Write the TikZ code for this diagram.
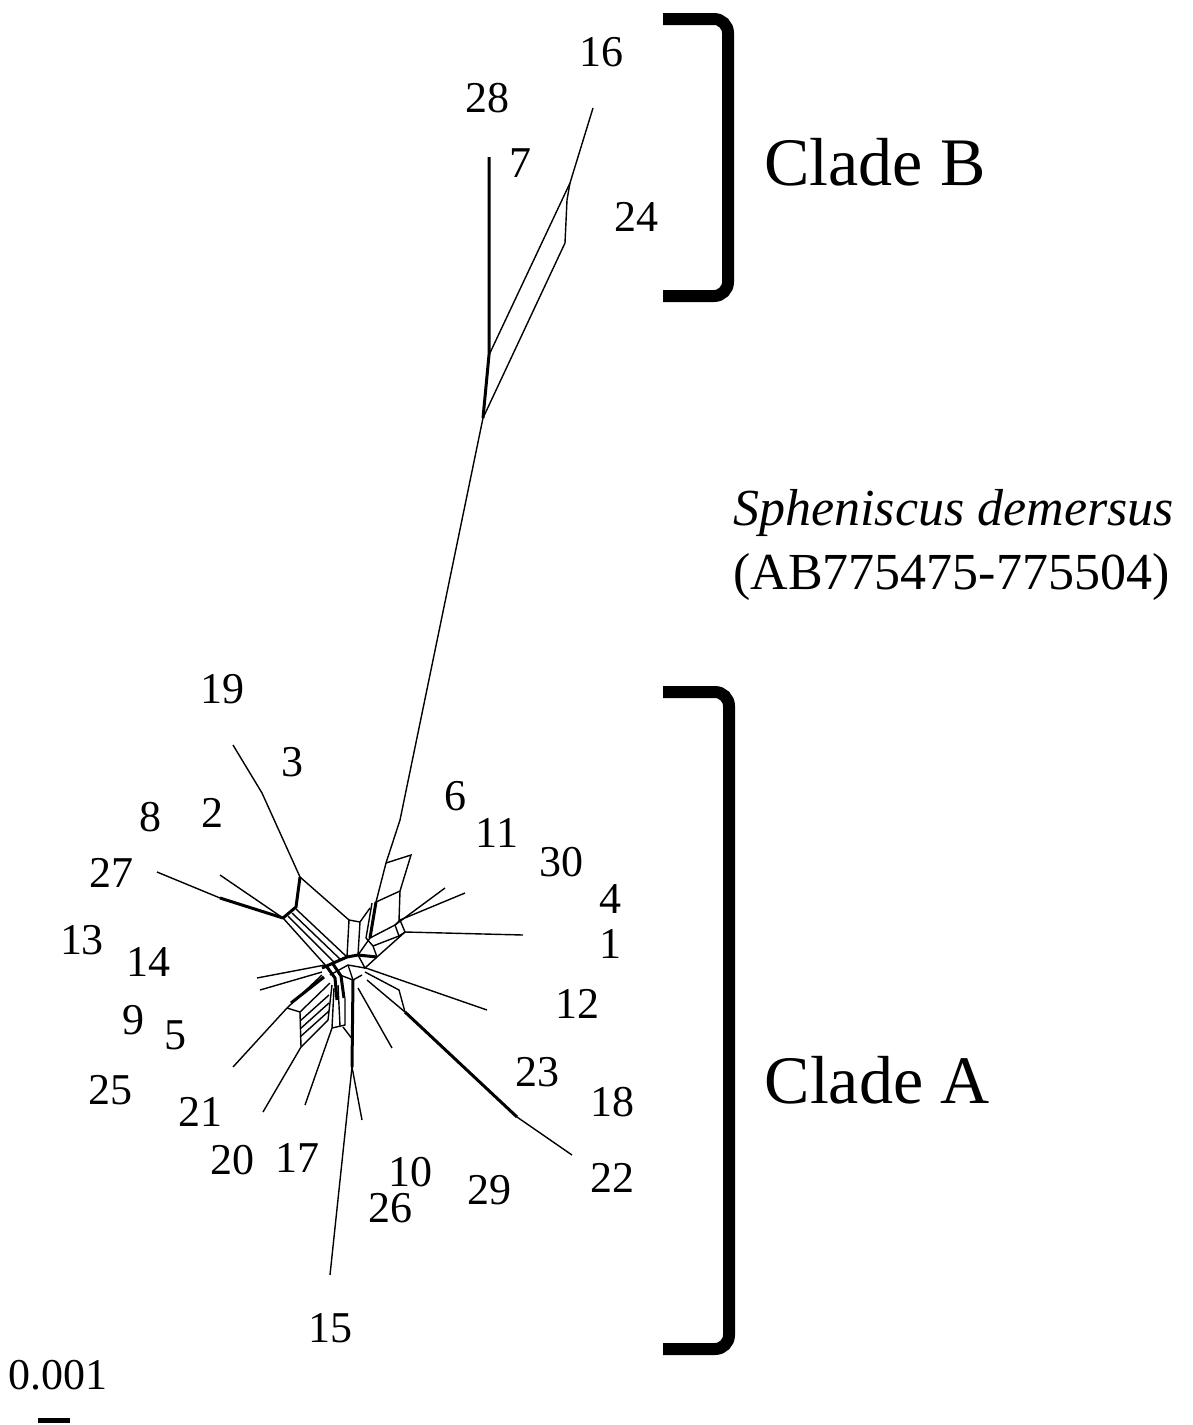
\documentclass[tikz,border=0pt]{standalone}
\usepackage{fontspec}
\setmainfont{Liberation Serif}
\begin{document}
\begin{tikzpicture}[x=0.5pt,y=-0.5pt,
  lbl/.style={font=\fontsize{22}{24}\selectfont,inner sep=0pt},
  clade/.style={font=\fontsize{34}{38}\selectfont,inner sep=0pt},
  edge/.style={line width=0.7pt},
  heavy/.style={line width=1.5pt},
  bracket/.style={line width=6pt,rounded corners=7pt}]
\useasboundingbox (0,0) rectangle (1193,1425);

% tips
\coordinate (t28) at (489,157);
\coordinate (t16) at (593,108);
\coordinate (t19) at (233,745);
\coordinate (t27) at (157,872);
\coordinate (t8) at (220,875);
\coordinate (t13) at (257,978);
\coordinate (t14) at (260,990);
\coordinate (t9) at (233,1067);
\coordinate (t21) at (263,1112);
\coordinate (t17) at (305,1105);
\coordinate (t15) at (330,1275);
\coordinate (t10) at (362,1120);
\coordinate (t29) at (392,1048);
\coordinate (t22) at (572,1155);
\coordinate (t12) at (487,1010);
\coordinate (t1) at (523,935);
\coordinate (t4) at (465,893);
\coordinate (t30) at (445,888);

% clade B part
\coordinate (b1) at (570,183);
\coordinate (b2) at (565,243);
\coordinate (b3) at (489,355);
\coordinate (b4) at (483,418);
\draw[heavy] (t28) -- (b3) -- (b4);
\draw[edge] (t16) -- (b1) -- (b3);
\draw[edge] (b1) -- (567,200) -- (b2) -- (b4);

% long branch
\coordinate (e1) at (386,863);
\coordinate (e2) at (411,855);
\coordinate (e3) at (400,891);
\coordinate (c0) at (376,902);
\draw[edge] (b4) -- (400,820) -- (e1) -- (c0);
\draw[edge] (e1) -- (e2) -- (e3) -- (c0);
\draw[edge] (e3) -- (399,921);
\draw[heavy] (c0) -- (370,938);
\draw[edge] (372,903) -- (366,938);

% east box
\draw[edge] (395,925) -- (400,920) -- (405,932) -- (399,936) -- cycle;
\draw[edge] (395,925) -- (t30);
\draw[edge] (400,920) -- (t4);
\draw[edge] (405,932) -- (t1);
\draw[edge] (370,938) -- (395,925);
\draw[edge] (373,946) -- (399,936);
\draw[edge] (366,938) -- (373,946);

% west part
\coordinate (w1) at (262,793);
\coordinate (w2) at (300,877);
\coordinate (w3) at (296,907);
\coordinate (w4) at (283,918);
\draw[edge] (t19) -- (w1) -- (w2);
\draw[heavy] (w2) -- (w3) -- (w4);
\draw[edge] (t27) -- (220,898);
\draw[heavy] (220,898) -- (w4);
\draw[edge] (t8) -- (w4);
\draw[edge] (w2) -- (349,920) -- (347,957);
\draw[edge] (349,920) -- (360,922) -- (358,955);
\draw[edge] (360,922) -- (370,908);
\draw[edge] (283,918) -- (327,967);
\draw[edge] (288,916) -- (334,962);
\draw[edge] (292,913) -- (341,960);
\draw[edge] (296,909) -- (347,957);

% core
\draw[heavy] (322,968) -- (347,957) -- (358,955) -- (377,957);
\draw[edge] (358,955) -- (370,938);
\draw[edge] (377,957) -- (373,946);
\draw[edge] (377,957) -- (405,932);
\draw[edge] (330,975) -- (348,965) -- (365,968);
\draw[edge] (348,965) -- (353,980);
\draw[edge] (358,955) -- (365,968) -- (377,957);
\draw[heavy] (327,967) -- (335,978) -- (337,1000);
\draw[heavy] (333,964) -- (341,976) -- (344,998);
\draw[edge] (t13) -- (325,965);
\draw[edge] (t14) -- (322,972);

% south-west box
\coordinate (s1) at (287,1008);
\coordinate (s2) at (300,1012);
\coordinate (s3) at (301,1047);
\coordinate (s4) at (328,1020);
\draw[edge] (t9) -- (s1) -- (322,975);
\draw[heavy] (291,1003) -- (324,977);
\draw[edge] (s1) -- (s2) -- (s3);
\draw[edge] (s2) -- (330,983);
\draw[edge] (s3) -- (s4) -- (332,985);
\foreach \d in {9,17,25}
  \draw[edge] (300,1012+\d) -- (329,986+\d);
\draw[edge] (t21) -- (s3);
\draw[edge] (t17) -- (332,1028) -- (334,988);
\draw[edge] (332,1028) -- (345,1025) -- (345,998);
\draw[edge] (338,985) -- (340,1026);

% south part
\coordinate (s5) at (353,980);
\coordinate (s6) at (352,1067);
\draw[heavy] (s5) -- (s6);
\draw[edge] (s6) -- (t15);
\draw[edge] (s6) -- (t10);
\draw[edge] (343,1027) -- (353,1040);
\draw[edge] (358,988) -- (t29);
\draw[edge] (340,975) -- (s5) -- (362,975);

% south-east part
\coordinate (s7) at (405,1012);
\coordinate (s8) at (517,1117);
\draw[edge] (365,972) -- (399,990) -- (s7);
\draw[edge] (367,980) -- (s7);
\draw[heavy] (s7) -- (s8);
\draw[edge] (s8) -- (t22);
\draw[edge] (363,967) -- (t12);

% labels
\node[lbl] (l16) at (601,52) {16};
\node[lbl] (l28) at (487,98) {28};
\node[lbl] (l7) at (520,163) {7};
\node[lbl] (l24) at (636,217) {24};
\node[lbl] (l19) at (222,689) {19};
\node[lbl] (l3) at (292,762) {3};
\node[lbl] (l8) at (150,817) {8};
\node[lbl] (l2) at (212,813) {2};
\node[lbl] (l6) at (455,796) {6};
\node[lbl] (l11) at (497,833) {11};
\node[lbl] (l30) at (561,862) {30};
\node[lbl] (l4) at (610,899) {4};
\node[lbl] (l27) at (111,873) {27};
\node[lbl] (l1) at (610,944) {1};
\node[lbl] (l13) at (82,940) {13};
\node[lbl] (l14) at (148,962) {14};
\node[lbl] (l12) at (577,1004) {12};
\node[lbl] (l9) at (133,1020) {9};
\node[lbl] (l5) at (175,1035) {5};
\node[lbl] (l23) at (537,1072) {23};
\node[lbl] (l18) at (612,1102) {18};
\node[lbl] (l25) at (110,1090) {25};
\node[lbl] (l21) at (200,1112) {21};
\node[lbl] (l20) at (232,1160) {20};
\node[lbl] (l17) at (297,1158) {17};
\node[lbl] (l10) at (410,1172) {10};
\node[lbl] (l26) at (390,1208) {26};
\node[lbl] (l29) at (489,1190) {29};
\node[lbl] (l22) at (612,1178) {22};
\node[lbl] (l15) at (330,1328) {15};

\node[clade] (cladeB) at (875,162) {Clade B};
\node[clade] (cladeA) at (877,1080) {Clade A};
\node[anchor=west,inner sep=0pt,font=\fontsize{26}{28}\selectfont\itshape] (sp) at (733,513) {Spheniscus demersus};
\node[anchor=west,inner sep=0pt,font=\fontsize{26}{28}\selectfont] (acc) at (733,577) {(AB775475-775504)};

\draw[bracket] (663,19) -- (728,19) -- (728,296) -- (663,296);
\draw[bracket] (663,692) -- (729,692) -- (729,1349) -- (663,1349);

\node[lbl] (scale) at (58,1375) {0.001};
\draw[line width=2.5pt] (38,1420) -- (70,1420);
\end{tikzpicture}
\end{document}
